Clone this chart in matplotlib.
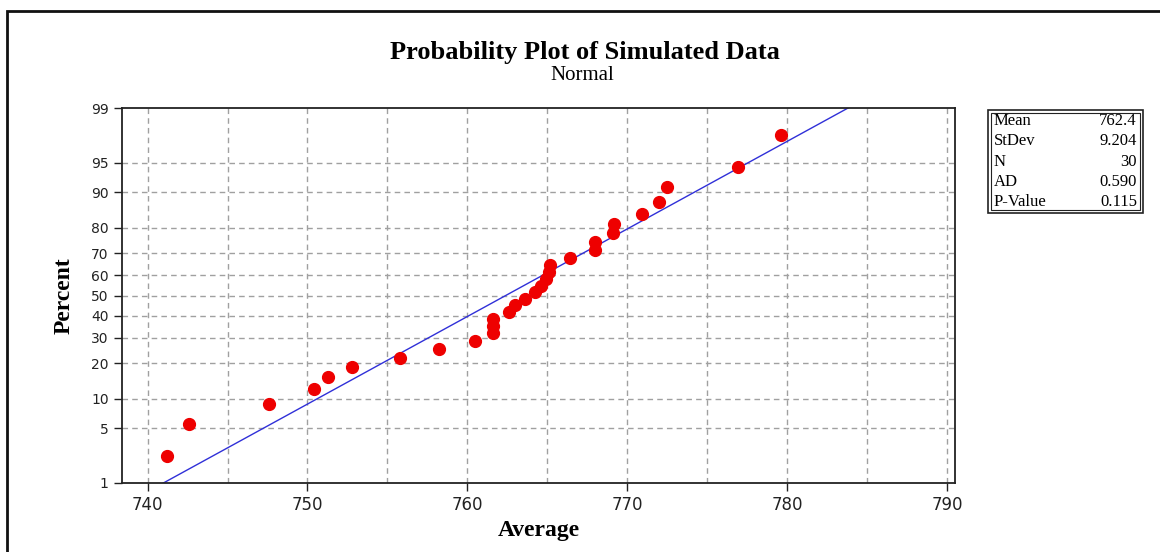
import numpy as np
import matplotlib
matplotlib.use("Agg")
import matplotlib.pyplot as plt
from matplotlib.patches import Rectangle
from statistics import NormalDist

# data
averages = [741.2, 742.6, 747.6, 750.4, 751.3, 752.8, 755.8, 758.2, 760.5,
            761.6, 761.6, 761.6, 762.6, 763.0, 763.6, 764.2, 764.6, 764.9,
            765.1, 765.2, 766.4, 768.0, 768.0, 769.1, 769.2, 770.9, 772.0,
            772.5, 776.9, 779.6]
percents = [2.3, 5.6, 8.9, 12.2, 15.5, 18.8, 22.0, 25.3, 28.6, 31.9,
            35.2, 38.5, 41.8, 45.1, 48.4, 51.6, 54.9, 58.2, 61.5, 64.8,
            68.1, 71.4, 74.7, 78.0, 81.2, 84.5, 87.8, 91.1, 94.4, 97.7]

mean = 762.4
stdev = 9.204
stat_names = ["Mean", "StDev", "N", "AD", "P-Value"]
stat_values = ["762.4", "9.204", "30", "0.590", "0.115"]

y_ticks = [1, 5, 10, 20, 30, 40, 50, 60, 70, 80, 90, 95, 99]
x_ticks = [740, 750, 760, 770, 780, 790]

# normal probability scale for the y axis
nd = NormalDist()
_ppf = np.vectorize(lambda p: nd.inv_cdf(min(max(p / 100.0, 1e-9), 1 - 1e-9)),
                    otypes=[float])
_cdf = np.vectorize(lambda z: nd.cdf(z) * 100.0, otypes=[float])

def forward(p):
    return _ppf(np.asarray(p, dtype=float))

def inverse(z):
    return _cdf(np.asarray(z, dtype=float))

serif = ["Liberation Serif", "DejaVu Serif"]

fig = plt.figure(figsize=(11.6, 5.52), dpi=100)
ax = fig.add_axes([122 / 1160, 1 - 483 / 552, (955 - 122) / 1160, (483 - 108) / 552])

ax.set_yscale("function", functions=(forward, inverse))
ax.set_ylim(1, 99)
ax.set_xlim(738.4, 790.5)

# grid
for gx in np.arange(740, 791, 5):
    ax.axvline(gx, color="#a0a0a0", lw=1, ls=(0, (4, 3)), zorder=0)
for gy in y_ticks[1:-1]:
    ax.axhline(gy, color="#a0a0a0", lw=1, ls=(0, (4, 3)), zorder=0)

# fitted line from mean / stdev
line_p = np.array([1, 99])
line_x = mean + stdev * np.array([nd.inv_cdf(0.01), nd.inv_cdf(0.99)])
ax.plot(line_x, line_p, color="#3030d8", lw=1.0, zorder=2)

ax.plot(averages, percents, "o", color="#ee0000", ms=8.5, mec="#ee0000", zorder=3)

ax.set_yticks(y_ticks)
ax.set_yticklabels([str(t) for t in y_ticks])
ax.yaxis.set_minor_locator(matplotlib.ticker.NullLocator())
ax.set_xticks(x_ticks)
ax.tick_params(axis="both", direction="out", length=6, width=1, colors="#222222",
               labelsize=12)
ax.tick_params(axis="y", labelsize=10)
for s in ax.spines.values():
    s.set_linewidth(1.3)
    s.set_color("#222222")

ax.set_xlabel("Average", family=serif, fontweight="bold", fontsize=17, labelpad=4)
ax.set_ylabel("Percent", family=serif, fontweight="bold", fontsize=17, labelpad=12)

fig.text(0.504, 1 - 53 / 552, "Probability Plot of Simulated Data", family=serif,
         fontweight="bold", fontsize=19, ha="center", va="center")
fig.text(0.502, 1 - 76 / 552, "Normal", family=serif, fontsize=15,
         ha="center", va="center")

# stats box (double border)
bx0, bx1, by0, by1 = 988 / 1160, 1143 / 1160, 1 - 213 / 552, 1 - 110 / 552
fig.patches.append(Rectangle((bx0, by0), bx1 - bx0, by1 - by0, transform=fig.transFigure,
                             fill=False, ec="#222222", lw=1.2))
d = 3
fig.patches.append(Rectangle((bx0 + d / 1160, by0 + d / 552), bx1 - bx0 - 2 * d / 1160,
                             by1 - by0 - 2 * d / 552, transform=fig.transFigure,
                             fill=False, ec="#222222", lw=0.8))
for i, (n, v) in enumerate(zip(stat_names, stat_values)):
    yy = 1 - (121 + i * 20.3) / 552
    fig.text(994 / 1160, yy, n, family=serif, fontsize=12, ha="left", va="center")
    fig.text(1137 / 1160, yy, v, family=serif, fontsize=12, ha="right", va="center")

# outer frame of the graph window
fig.patches.append(Rectangle((7 / 1160, -0.2), 1.5, 1.2 - 11 / 552,
                             transform=fig.transFigure, fill=False, ec="#111111", lw=2))

fig.savefig("out.png", dpi=100)
